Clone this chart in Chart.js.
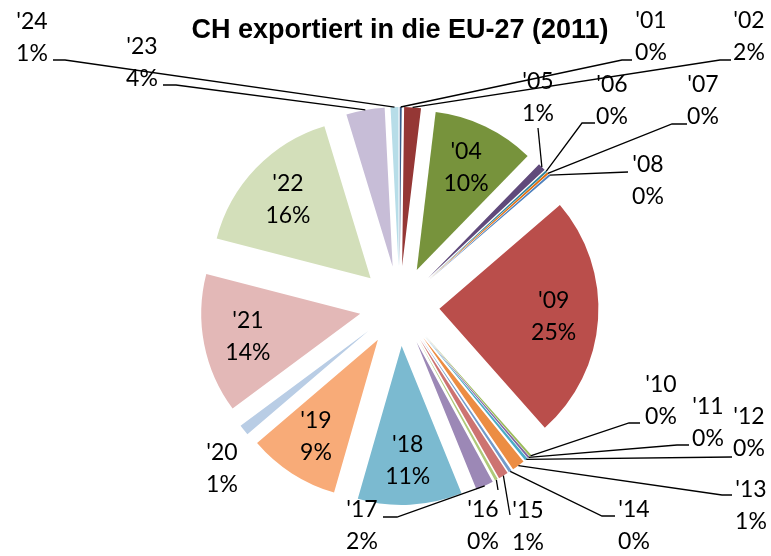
<!DOCTYPE html>
<html>
<head>
<meta charset="utf-8">
<script src="https://cdn.jsdelivr.net/npm/chart.js@4.4.0/dist/chart.umd.min.js"></script>
<style>
  html, body { margin: 0; padding: 0; background: #fff; }
</style>
</head>
<body>
<canvas id="myChart" width="771" height="556"></canvas>
<script>
// data ('03 is not in the series)
const years = ["'01", "'02", "'04", "'05", "'06", "'07", "'08", "'09", "'10", "'11", "'12", "'13",
  "'14", "'15", "'16", "'17", "'18", "'19", "'20", "'21", "'22", "'23", "'24"];
const shares = [0.2, 1.7, 10.4, 0.8, 0.2, 0.2, 0.2, 24.8, 0.2, 0.2, 0.3, 1.3,
  0.3, 1.0, 0.3, 1.8, 10.6, 9.3, 1.1, 14.2, 16.3, 3.9, 0.8];
const colours = ["#385D8A", "#953735", "#77933C", "#604A7B", "#31859C", "#E46C0A", "#4F81BD",
  "#BA4E4B", "#9BBB59", "#8064A2", "#4BACC6", "#EC8D43", "#729ACA", "#CD7371", "#AFC97A",
  "#9C88B6", "#7BBAD0", "#F8AB78", "#B9CDE5", "#E3B8B7", "#D3DFBA", "#C7BDD7", "#B7DDE8"];

const EXPLODE = 40;
const RADIUS = 159;

// labels placed outside with leader lines: at = centre of first text line,
// stub = [x from, y, x to] short piece of leader next to the text
const outside = {
  "'24": { at: [32, 21], stub: [53, 60, 65] },
  "'23": { at: [142, 46], stub: [163, 85, 176] },
  "'01": { at: [651, 20], stub: [632, 60, 622] },
  "'02": { at: [749, 20], stub: [731, 60, 720] },
  "'05": { at: [538, 81], stub: [538, 128, 538] },
  "'06": { at: [612, 84], stub: [595, 123, 582] },
  "'07": { at: [703, 84], stub: [687, 124, 672] },
  "'08": { at: [648, 164], stub: [628, 172, 628] },
  "'10": { at: [661, 384], stub: [640, 423, 629] },
  "'11": { at: [708, 406], stub: [689, 445, 677] },
  "'12": { at: [749, 416], stub: [732, 457, 732] },
  "'13": { at: [751, 489], stub: [732, 495, 722] },
  "'14": { at: [634, 509], stub: [615, 516, 602] },
  "'15": { at: [528, 510], stub: [510, 515, 510] },
  "'16": { at: [483, 509], stub: [498, 490, 498] },
  "'17": { at: [362, 509], stub: [383, 517, 397] },
  "'20": { at: [222, 452] },
};

const total = shares.reduce((a, b) => a + b, 0);

// exploded slices: push every arc out along its middle angle
const explode = {
  id: "explode",
  afterDatasetsUpdate(chart) {
    const { chartArea: { left, right, top, bottom } } = chart;
    const cx = (left + right) / 2;
    const cy = (top + bottom) / 2;
    chart.getDatasetMeta(0).data.forEach((arc) => {
      const mid = (arc.startAngle + arc.endAngle) / 2;
      arc.x = cx + Math.cos(mid) * EXPLODE;
      arc.y = cy + Math.sin(mid) * EXPLODE;
    });
  },
};

// title + data labels
const labels = {
  id: "labels",
  afterDatasetsDraw(chart) {
    const { ctx } = chart;
    const meta = chart.getDatasetMeta(0);
    ctx.save();

    ctx.fillStyle = "#000";
    ctx.textAlign = "center";
    ctx.textBaseline = "alphabetic";
    ctx.font = "bold 27px 'Liberation Sans', Arial, sans-serif";
    ctx.fillText("CH exportiert in die EU-27 (2011)", 400, 38);

    ctx.font = "23px Lato, sans-serif";
    ctx.strokeStyle = "#000";
    ctx.lineWidth = 1.3;
    meta.data.forEach((arc, i) => {
      const year = years[i];
      const pct = Math.round((shares[i] / total) * 100) + "%";
      const mid = (arc.startAngle + arc.endAngle) / 2;
      const o = outside[year];
      let x, y;
      if (o) {
        [x, y] = o.at;
        if (o.stub) {
          const [x1, sy, x2] = o.stub;
          ctx.beginPath();
          ctx.moveTo(x1, sy);
          ctx.lineTo(x2, sy);
          ctx.lineTo(arc.x + Math.cos(mid) * arc.outerRadius, arc.y + Math.sin(mid) * arc.outerRadius);
          ctx.stroke();
        }
      } else {
        const r = arc.outerRadius * 0.72;
        x = arc.x + Math.cos(mid) * r;
        y = arc.y + Math.sin(mid) * r - 16;
      }
      ctx.fillText(year, x, y + 8);
      ctx.fillText(pct, x, y + 40);
    });
    ctx.restore();
  },
};

const config = {
  type: "pie",
  data: {
    labels: years,
    datasets: [
      {
        data: shares,
        backgroundColor: colours,
        borderWidth: 0,
        hoverOffset: 0,
      },
    ],
  },
  options: {
    responsive: false,
    animation: false,
    radius: RADIUS,
    layout: { padding: { left: 28, right: 0, top: 56, bottom: 0 } },
    plugins: {
      legend: { display: false },
      title: { display: false },
      tooltip: { enabled: false },
    },
  },
  plugins: [explode, labels],
};

const myChart = new Chart(document.getElementById("myChart"), config);
</script>
</body>
</html>
